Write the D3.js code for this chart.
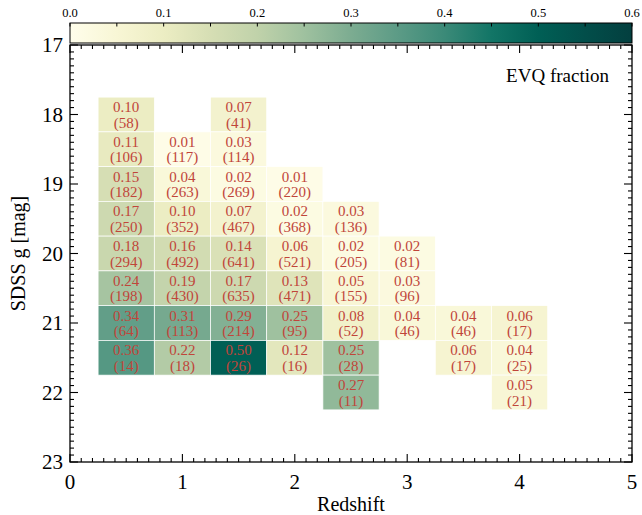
<!DOCTYPE html>
<html><head><meta charset="utf-8">
<script src="https://cdn.jsdelivr.net/npm/d3@7"></script>
<style>body{margin:0;background:#fff}svg{display:block}text{font-family:"Liberation Serif","DejaVu Serif",serif}</style>
</head><body>
<svg id="c" width="642" height="515"></svg>
<script>
// bins: redshift centres and g-mag centres (bin width 0.5)
const zCenters = [0.5, 1.0, 1.5, 2.0, 2.5, 3.0, 3.5, 4.0];
const magCenters = [18, 18.5, 19, 19.5, 20, 20.5, 21, 21.5, 22];
// cells: [z centre, mag centre, EVQ fraction, N]
const cellZ    = [0.5,1.5, 0.5,1.0,1.5, 0.5,1.0,1.5,2.0, 0.5,1.0,1.5,2.0,2.5, 0.5,1.0,1.5,2.0,2.5,3.0, 0.5,1.0,1.5,2.0,2.5,3.0, 0.5,1.0,1.5,2.0,2.5,3.0,3.5,4.0, 0.5,1.0,1.5,2.0,2.5,3.5,4.0, 2.5,4.0];
const cellMag  = [18,18, 18.5,18.5,18.5, 19,19,19,19, 19.5,19.5,19.5,19.5,19.5, 20,20,20,20,20,20, 20.5,20.5,20.5,20.5,20.5,20.5, 21,21,21,21,21,21,21,21, 21.5,21.5,21.5,21.5,21.5,21.5,21.5, 22,22];
const cellFrac = [0.10,0.07, 0.11,0.01,0.03, 0.15,0.04,0.02,0.01, 0.17,0.10,0.07,0.02,0.03, 0.18,0.16,0.14,0.06,0.02,0.02, 0.24,0.19,0.17,0.13,0.05,0.03, 0.34,0.31,0.29,0.25,0.08,0.04,0.04,0.06, 0.36,0.22,0.50,0.12,0.25,0.06,0.04, 0.27,0.05];
const cellN    = [58,41, 106,117,114, 182,263,269,220, 250,352,467,368,136, 294,492,641,521,205,81, 198,430,635,471,155,96, 64,113,214,95,52,46,46,17, 14,18,26,16,28,17,25, 11,21];
const xTicks = [0,1,2,3,4,5];
const yTicks = [17,18,19,20,21,22,23];
const cbTicks = [0.0,0.1,0.2,0.3,0.4,0.5,0.6];
// colormap stops
const cmapDomain = [0,0.05,0.1,0.15,0.2,0.25,0.3,0.35,0.4,0.45,0.5,0.55,0.6];
const cmapColors = ["#fffeeb","#f8f6d5","#ecedc3","#d6deb4","#c0d2aa","#9fc19f","#7cac91","#5c9b86","#3b8a78","#127566","#005f55","#024e4a","#033f3f"];

const svg = d3.select("#c");
const L=70, R=632, T=45, B=462;
const x = d3.scaleLinear().domain([0,5]).range([L,R]);
const y = d3.scaleLinear().domain([17,23]).range([T,B]);
const color = d3.scaleLinear().domain(cmapDomain).range(cmapColors).clamp(true);

// cells
const cells = cellZ.map((z,i)=>({z, m:cellMag[i], f:cellFrac[i], n:cellN[i]}));
const g = svg.append("g");
g.selectAll("rect").data(cells).join("rect")
  .attr("x", d=>x(d.z-0.25)).attr("y", d=>y(d.m-0.25))
  .attr("width", d=>x(d.z+0.25)-x(d.z-0.25)).attr("height", d=>y(d.m+0.25)-y(d.m-0.25))
  .attr("fill", d=>color(d.f)).attr("stroke","#fff").attr("stroke-width",0.7);
const tg = g.selectAll("g.lab").data(cells).join("g").attr("class","lab");
tg.append("text").attr("x",d=>x(d.z)).attr("y",d=>y(d.m)-2.5).attr("text-anchor","middle")
  .attr("font-size",15).attr("fill","#c0453a").text(d=>d.f.toFixed(2));
tg.append("text").attr("x",d=>x(d.z)).attr("y",d=>y(d.m)+13).attr("text-anchor","middle")
  .attr("font-size",15).attr("fill","#c0453a").text(d=>"("+d.n+")");

// frame
svg.append("rect").attr("x",L).attr("y",T).attr("width",R-L).attr("height",B-T)
  .attr("fill","none").attr("stroke","#000").attr("stroke-width",1.3);

// ticks (inward on all sides)
const ax = svg.append("g").attr("stroke","#000").attr("stroke-width",1.1);
const xMinor = d3.range(0,5.0001,0.1);
xMinor.forEach(v=>{
  const major = Math.abs(v-Math.round(v))<1e-6;
  const len = major?8:4;
  ax.append("line").attr("x1",x(v)).attr("x2",x(v)).attr("y1",B).attr("y2",B-len);
  ax.append("line").attr("x1",x(v)).attr("x2",x(v)).attr("y1",T).attr("y2",T+len);
});
const yMinor = d3.range(17,23.0001,0.1);
yMinor.forEach(v=>{
  const major = Math.abs(v-Math.round(v))<1e-6;
  const len = major?8:4;
  ax.append("line").attr("y1",y(v)).attr("y2",y(v)).attr("x1",L).attr("x2",L+len);
  ax.append("line").attr("y1",y(v)).attr("y2",y(v)).attr("x1",R).attr("x2",R-len);
});
svg.append("g").selectAll("text").data(xTicks).join("text")
  .attr("x",d=>x(d)).attr("y",B+27).attr("text-anchor","middle").attr("font-size",21).text(d=>d);
svg.append("g").selectAll("text").data(yTicks).join("text")
  .attr("x",L-7).attr("y",d=>y(d)+7).attr("text-anchor","end").attr("font-size",21).text(d=>d);
svg.append("text").attr("x",(L+R)/2).attr("y",511).attr("text-anchor","middle").attr("font-size",20).text("Redshift");
svg.append("text").attr("transform",`translate(25,${(T+B)/2}) rotate(-90)`).attr("text-anchor","middle").attr("font-size",20).text("SDSS g [mag]");
svg.append("text").attr("x",609).attr("y",82).attr("text-anchor","end").attr("font-size",19).text("EVQ fraction");

// colorbar
const cbT=23, cbB=43;
const cx = d3.scaleLinear().domain([0,0.6]).range([L,R]);
const defs = svg.append("defs");
const grad = defs.append("linearGradient").attr("id","cg").attr("x1","0%").attr("x2","100%");
cmapDomain.forEach((v,i)=>grad.append("stop").attr("offset",(v/0.6*100)+"%").attr("stop-color",cmapColors[i]));
svg.append("rect").attr("x",L).attr("y",cbT).attr("width",R-L).attr("height",cbB-cbT)
  .attr("fill","url(#cg)").attr("stroke","#000").attr("stroke-width",1);
const cbg = svg.append("g").attr("stroke","#000").attr("stroke-width",1);
d3.range(0,0.6001,0.05).forEach(v=>{
  cbg.append("line").attr("x1",cx(v)).attr("x2",cx(v)).attr("y1",cbT).attr("y2",cbT+3.5);
});
svg.append("g").selectAll("text").data(cbTicks).join("text")
  .attr("x",d=>cx(d)).attr("y",cbT-6).attr("text-anchor","middle").attr("font-size",12.5).text(d=>d.toFixed(1));
</script>
</body></html>
